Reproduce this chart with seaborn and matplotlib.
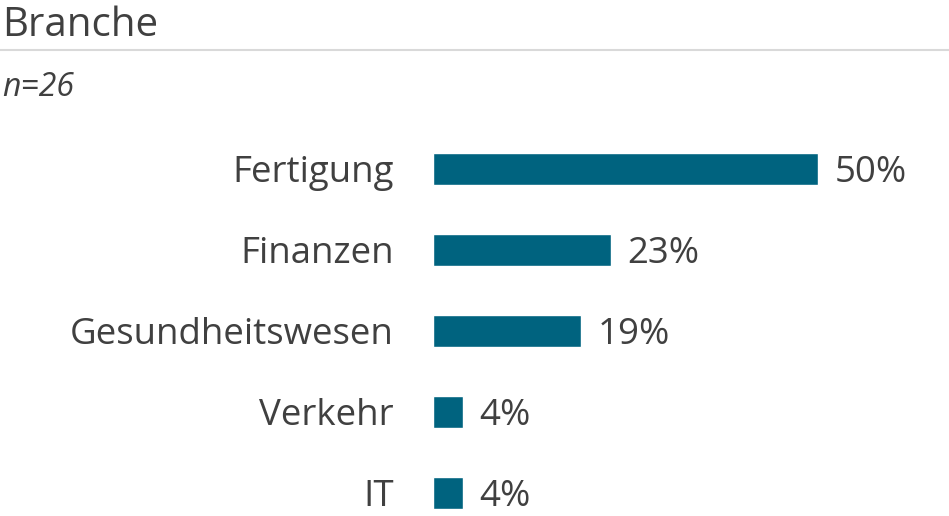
import matplotlib
matplotlib.use("Agg")
import matplotlib.pyplot as plt
import seaborn as sns
import pandas as pd
from matplotlib.lines import Line2D

categories = ["Fertigung", "Finanzen", "Gesundheitswesen", "Verkehr", "IT"]
values = [50.0, 23.1, 19.2, 3.85, 3.85]
value_labels = ["50%", "23%", "19%", "4%", "4%"]
title = "Branche"
subtitle = "n=26"

sns.set_theme(style="white")
plt.rcParams["font.family"] = ["Open Sans", "DejaVu Sans"]

W, H = 949, 516
fig = plt.figure(figsize=(W / 100, H / 100), dpi=100)

# axes geometry in pixels
left_px, right_px = 433, 949
top_px, bottom_px = 128, 516
ax = fig.add_axes([left_px / W, 1 - bottom_px / H, (right_px - left_px) / W, (bottom_px - top_px) / H])

df = pd.DataFrame({"cat": categories, "val": values})
sns.barplot(data=df, x="val", y="cat", orient="h", color="#00637f", width=32 / 81,
            saturation=1, ax=ax)

ax.set_xlim(0, (right_px - left_px) / 7.7)
ax.set_ylim((bottom_px - 169) / 81, -0.5)
ax.set_xlabel("")
ax.set_ylabel("")
ax.set_xticks([])
for s in ax.spines.values():
    s.set_visible(False)
ax.tick_params(axis="y", length=0, pad=28.2, labelsize=26.4, labelcolor="#404040")
for t in ax.get_yticklabels():
    t.set_va("center_baseline")

for c in ax.containers:
    texts = ax.bar_label(c, labels=value_labels, padding=12, fontsize=26.4, color="#404040")
    for t in texts:
        t.set_va("center_baseline")

fig.text(2 / W, 1 - 36 / H, title, fontsize=29, color="#404040", ha="left", va="baseline")
fig.text(2 / W, 1 - 96 / H, subtitle, fontsize=23, color="#404040", ha="left", va="baseline",
         style="italic")
fig.add_artist(Line2D([0, 1], [1 - 50 / H, 1 - 50 / H], color="#d9d9d9", lw=1.5,
                      transform=fig.transFigure))

fig.savefig("out.png", dpi=100)
